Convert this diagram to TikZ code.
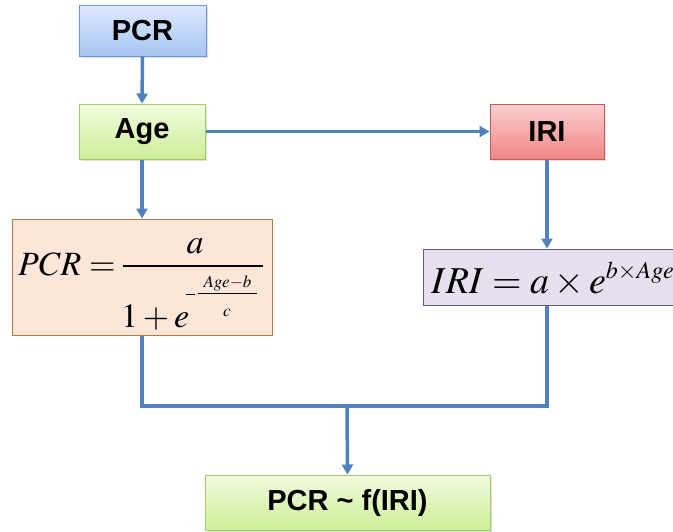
\documentclass[tikz,border=0pt]{standalone}
\usepackage{fontspec}
\setsansfont{Liberation Sans}
\usepackage{mathptmx}
\usetikzlibrary{arrows.meta,calc,shadows}
\definecolor{arr}{RGB}{79,129,189}
\definecolor{bluetop}{RGB}{222,234,252}
\definecolor{bluebot}{RGB}{166,196,242}
\definecolor{blueln}{RGB}{110,150,214}
\definecolor{greentop}{RGB}{242,251,222}
\definecolor{greenbot}{RGB}{204,238,152}
\definecolor{greenln}{RGB}{160,205,105}
\definecolor{redtop}{RGB}{252,206,206}
\definecolor{redbot}{RGB}{240,134,134}
\definecolor{redln}{RGB}{196,92,92}
\definecolor{peach}{RGB}{251,230,215}
\definecolor{peachln}{RGB}{180,120,70}
\definecolor{lav}{RGB}{230,224,238}
\definecolor{lavln}{RGB}{100,88,124}
\tikzset{
  lbl/.style={font=\fontsize{29}{32}\selectfont\sffamily\bfseries, text=black, line width=1pt, inner sep=0pt,
    drop shadow={shadow xshift=1.5pt, shadow yshift=-1.5pt, opacity=0.25}},
  bluebox/.style={lbl, draw=blueln, top color=bluetop, bottom color=bluebot},
  greenbox/.style={lbl, draw=greenln, top color=greentop, bottom color=greenbot},
  redbox/.style={lbl, draw=redln, top color=redtop, bottom color=redbot},
  formbox/.style={draw=#1, line width=1pt, inner sep=0pt},
  conn/.style={draw=arr, line width=3.5pt},
  arrow/.style={conn, -{Triangle[length=10pt,width=11pt]}},
  mt/.style={inner sep=0pt, anchor=base},
}
\begin{document}
\begin{tikzpicture}[x=1pt,y=-1pt]
\useasboundingbox (0,0) rectangle (673,531);
\node[bluebox, minimum width=127pt, minimum height=51pt] (pcr) at (142.5,30.5) {PCR};
\node[greenbox, minimum width=126pt, minimum height=55pt] (age) at (142,131.5) {Age};
\node[redbox, minimum width=114pt, minimum height=55pt] (iri) at (547,131.5) {IRI};
\node[formbox=peachln, fill=peach, minimum width=260pt, minimum height=116pt] (f1) at (142,277) {};
% PCR formula, set piece by piece
\node[mt, anchor=base west] (f1l) at (18,275) {\fontsize{34}{40}\selectfont$PCR=$};
\draw[line width=1.6pt] (123,266) -- (263,266);
\node[mt] (f1n) at (195,253) {\fontsize{34}{40}\selectfont$a$};
\node[mt, anchor=base west] (f1d) at (121,327) {\fontsize{34}{40}\selectfont$1+e$};
\draw[line width=1.1pt] (186,294.5) -- (195,294.5);
\draw[line width=1.1pt] (198,293.5) -- (257,293.5);
\node[mt] (f1en) at (227.5,287) {\fontsize{17}{20}\selectfont$Age{-}b$};
\node[mt] (f1ed) at (227,316) {\fontsize{17}{20}\selectfont$c$};
\node[formbox=lavln, fill=lav, minimum width=257pt, minimum height=56pt] (f2) at (551.5,277) {};
\node[mt, anchor=base west] (f2t) at (431,293) {\fontsize{38}{44}\selectfont$IRI=a\times e$\raisebox{15pt}{\fontsize{24}{28}\selectfont$b{\times}Age$}};
\node[greenbox, minimum width=285pt, minimum height=55pt] (fin) at (347.5,502.5) {PCR \textasciitilde\ f(IRI)};
\coordinate (j) at (347,406);
\draw[arrow] (pcr.south) -- (age.north);
\draw[arrow] (age.east) -- (iri.west);
\draw[arrow] (age.south) -- (f1.north);
\draw[arrow] (iri.south) -- (iri.south |- f2.north);
\draw[conn] (f1.south) |- (j) -| (iri.south |- f2.south);
\draw[arrow] (j) -- (fin.north);
\end{tikzpicture}
\end{document}
